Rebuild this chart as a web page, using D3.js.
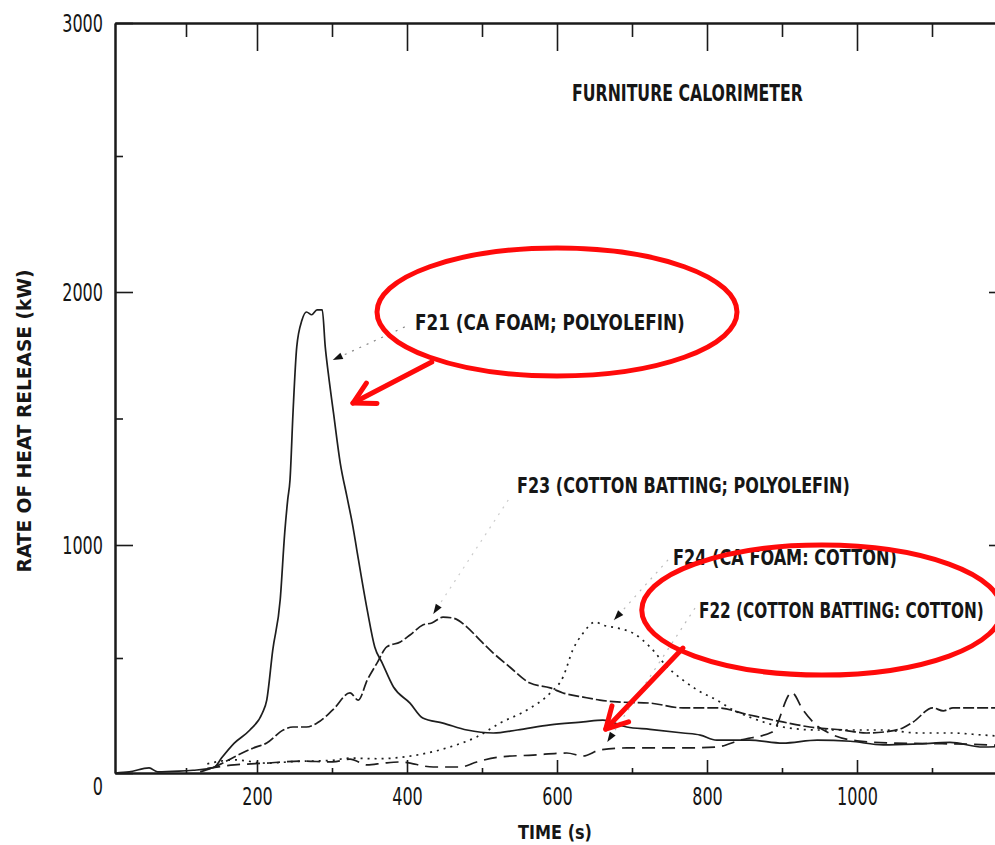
<!DOCTYPE html>
<html>
<head>
<meta charset="utf-8">
<script src="https://cdn.jsdelivr.net/npm/d3@7"></script>
<style>
body { margin: 0; background: #fff; }
svg { display: block; }
.txt { font-family: "Liberation Sans Narrow", "DejaVu Sans Condensed", sans-serif; font-weight: bold; fill: #161616; }
.axis path, .axis line { stroke: #1a1a1a; }
.axis path { stroke-width: 2px; }
.axis line { stroke-width: 1.6px; }
.axis text { font-family: "Liberation Sans Narrow", "DejaVu Sans Condensed", sans-serif; font-size: 25px; fill: #161616; }
.curve { fill: none; stroke: #1e1e1e; stroke-width: 1.7px; }
</style>
</head>
<body>
<svg id="chart" width="995" height="845"></svg>
<script>
// time (s) / heat release (kW)
const f21Time = [0, 20, 48, 60, 90, 110, 130, 140, 150, 168, 190, 207, 213, 221, 231, 237, 241, 244, 248, 253, 260, 266, 273, 280, 287, 291, 295, 302, 311, 320, 328, 333, 347, 357, 367, 382, 404, 421, 448, 480, 515, 547, 591, 635, 661, 693, 724, 768, 791, 813, 857, 901, 947, 991, 1035, 1080, 1124, 1168, 1190];
const f21Power = [0, 5, 22, 5, 8, 12, 18, 25, 65, 130, 187, 260, 317, 535, 760, 1050, 1180, 1257, 1522, 1783, 1889, 1921, 1910, 1929, 1929, 1783, 1680, 1522, 1324, 1190, 1071, 980, 712, 549, 478, 374, 304, 239, 217, 187, 174, 187, 209, 222, 230, 200, 190, 174, 165, 143, 143, 130, 143, 138, 122, 126, 133, 113, 115];

const f23Time = [120, 140, 168, 195, 213, 235, 248, 266, 280, 301, 324, 335, 347, 360, 373, 391, 404, 421, 433, 448, 461, 480, 497, 515, 537, 564, 591, 608, 635, 657, 680, 724, 768, 813, 857, 901, 937, 981, 1013, 1040, 1061, 1075, 1101, 1115, 1128, 1190];
const f23Power = [5, 26, 70, 109, 130, 187, 200, 200, 217, 274, 348, 317, 404, 478, 549, 571, 602, 646, 655, 681, 677, 637, 580, 522, 461, 391, 370, 348, 330, 317, 309, 304, 283, 283, 252, 222, 200, 187, 174, 180, 196, 222, 283, 270, 283, 283];

const f24Time = [130, 168, 213, 250, 300, 324, 360, 413, 457, 493, 524, 560, 591, 608, 621, 635, 651, 661, 680, 701, 724, 747, 768, 787, 813, 835, 857, 901, 947, 1035, 1080, 1124, 1168, 1190];
const f24Power = [40, 57, 43, 50, 55, 65, 62, 78, 113, 157, 217, 274, 348, 417, 535, 611, 660, 646, 633, 611, 549, 461, 404, 361, 317, 274, 243, 200, 187, 187, 174, 174, 165, 160];

const f22Time = [130, 168, 213, 257, 301, 324, 347, 369, 391, 435, 471, 493, 524, 568, 613, 635, 657, 693, 724, 768, 813, 844, 887, 913, 928, 945, 965, 1000, 1050, 1100, 1150, 1190];
const f22Power = [20, 35, 43, 52, 48, 60, 35, 43, 48, 26, 26, 48, 70, 78, 87, 74, 100, 109, 109, 109, 113, 143, 178, 350, 274, 210, 170, 140, 130, 128, 125, 120];

const xMajorTicks = [200, 400, 600, 800, 1000];
const xMinorTicks = [100, 300, 500, 700, 900, 1100];
const yMajorTicks = [0, 1000, 2000, 3000];
const yMinorTicks = [500, 1500, 2500];

const svg = d3.select("#chart");

// the scan is slightly stretched, so the scales carry a few anchor points
const x = d3.scaleLinear().domain([0, 200, 1200]).range([115, 257, 1007]);
const y = d3.scaleLinear()
  .domain([0, 500, 1000, 2000, 2500, 3000])
  .range([773, 658, 545, 292, 156, 23]);

svg.append("clipPath").attr("id", "plot")
  .append("rect")
  .attr("x", x(0)).attr("y", y(3000))
  .attr("width", x(1200) - x(0)).attr("height", y(0) - y(3000));

const plain = d => String(d);
// narrow the tick digits like the condensed face of the scan
const squeeze = sel => sel.selectAll(".tick text")
  .attr("textLength", d => String(d).length * 10.2)
  .attr("lengthAdjust", "spacingAndGlyphs");

// condensed look: measure the text, then scale it horizontally to the width in the scan
function addText(str, px, py, size, width, anchor, rotate) {
  const t = svg.append("text").attr("class", "txt")
    .attr("font-size", size)
    .attr("text-anchor", anchor || "start")
    .text(str);
  const k = width / t.node().getComputedTextLength();
  t.attr("transform", "translate(" + px + "," + py + ")" +
    (rotate ? " rotate(" + rotate + ")" : "") + " scale(" + k + ",1)");
  return t;
}

// axes, ticks pointing inward
svg.append("g").attr("class", "axis")
  .attr("transform", "translate(0," + y(0) + ")")
  .call(d3.axisBottom(x).tickValues(xMinorTicks).tickSizeInner(-5).tickSizeOuter(0).tickFormat(""));
svg.append("g").attr("class", "axis")
  .attr("transform", "translate(0," + y(0) + ")")
  .call(d3.axisBottom(x).tickValues(xMajorTicks).tickSizeInner(-13).tickSizeOuter(0).tickPadding(14).tickFormat(plain))
  .call(squeeze);

svg.append("g").attr("class", "axis")
  .attr("transform", "translate(0," + y(3000) + ")")
  .call(d3.axisTop(x).tickValues(xMinorTicks).tickSizeInner(-14).tickSizeOuter(0).tickFormat(""));
svg.append("g").attr("class", "axis")
  .attr("transform", "translate(0," + y(3000) + ")")
  .call(d3.axisTop(x).tickValues(xMajorTicks).tickSizeInner(-28).tickSizeOuter(0).tickFormat(""));

svg.append("g").attr("class", "axis")
  .attr("transform", "translate(" + x(0) + ",0)")
  .call(d3.axisLeft(y).tickValues(yMinorTicks).tickSizeInner(-8).tickSizeOuter(0).tickFormat(""));
const yAxis = svg.append("g").attr("class", "axis")
  .attr("transform", "translate(" + x(0) + ",0)")
  .call(d3.axisLeft(y).tickValues(yMajorTicks).tickSizeInner(-18).tickSizeOuter(0).tickPadding(12).tickFormat(plain))
  .call(squeeze);
yAxis.selectAll(".tick text").filter(d => d === 0).attr("dy", "0.85em");

svg.append("g").attr("class", "axis")
  .attr("transform", "translate(" + x(1200) + ",0)")
  .call(d3.axisRight(y).tickValues([1000, 2000]).tickSizeInner(-18).tickSizeOuter(0).tickFormat(""));

// axis titles and heading
addText("RATE OF HEAT RELEASE (kW)", 31, 421, 19, 303, "middle", -90);
addText("TIME (s)", 555, 839, 20, 74, "middle");
addText("FURNITURE CALORIMETER", 572, 101, 23, 231);

// the four curves
const series = [
  { name: "F21", time: f21Time, power: f21Power, dash: null },
  { name: "F23", time: f23Time, power: f23Power, dash: "11,3" },
  { name: "F24", time: f24Time, power: f24Power, dash: "2,5" },
  { name: "F22", time: f22Time, power: f22Power, dash: "13,7" }
];

const line = d3.line()
  .x(d => x(d[0]))
  .y(d => y(d[1]))
  .curve(d3.curveMonotoneX);

svg.append("g").attr("clip-path", "url(#plot)")
  .selectAll("path")
  .data(series)
  .join("path")
  .attr("class", "curve")
  .attr("stroke-dasharray", d => d.dash)
  .attr("d", d => line(d.time.map((t, i) => [t, d.power[i]])));

// curve labels with faint dotted leaders, anchors in data units
const labels = [
  { text: "F21 (CA FOAM; POLYOLEFIN)", lx: 415, ly: 330, len: 270, from: [397, 1862], to: [301, 1731], ink: "#888" },
  { text: "F23 (COTTON BATTING; POLYOLEFIN)", lx: 517, ly: 493, len: 333, from: [535, 1178], to: [435, 695], ink: "#ccc" },
  { text: "F24 (CA FOAM: COTTON)", lx: 673, ly: 565, len: 224, from: [748, 934], to: [676, 668], ink: "#bbb" },
  { text: "F22 (COTTON BATTING: COTTON)", lx: 699, ly: 618, len: 285, from: [784, 721], to: [667, 135], ink: "#bbb" }
];

const ann = svg.append("g");
labels.forEach(l => {
  addText(l.text, l.lx, l.ly, 21, l.len);

  const x1 = x(l.from[0]), y1 = y(l.from[1]);
  const x2 = x(l.to[0]), y2 = y(l.to[1]);
  ann.append("line")
    .attr("x1", x1).attr("y1", y1).attr("x2", x2).attr("y2", y2)
    .attr("stroke", l.ink).attr("stroke-width", 1.2)
    .attr("stroke-dasharray", "2,6");

  // small black arrow head at the curve end
  const a = Math.atan2(y2 - y1, x2 - x1);
  const hl = 10, hw = 3.5;
  const bx = x2 - hl * Math.cos(a), by = y2 - hl * Math.sin(a);
  ann.append("path")
    .attr("d", "M" + x2 + "," + y2 +
      "L" + (bx + hw * Math.sin(a)) + "," + (by - hw * Math.cos(a)) +
      "L" + (bx - hw * Math.sin(a)) + "," + (by + hw * Math.cos(a)) + "Z")
    .attr("fill", "#111");
});

// red highlight overlay
const highlights = [
  { cx: 600, cy: 1921, rx: 180, ry: 64, from: [433, 1723], to: [328, 1561] },
  { cx: 953, cy: 712, rx: 180, ry: 65, from: [768, 544], to: [665, 191] }
];

const red = svg.append("g")
  .attr("fill", "none").attr("stroke", "#ff0a0a")
  .attr("stroke-width", 5).attr("stroke-linecap", "round");

highlights.forEach(h => {
  red.append("ellipse")
    .attr("cx", x(h.cx)).attr("cy", y(h.cy))
    .attr("rx", h.rx).attr("ry", h.ry);

  const x1 = x(h.from[0]), y1 = y(h.from[1]);
  const x2 = x(h.to[0]), y2 = y(h.to[1]);
  red.append("line").attr("x1", x1).attr("y1", y1).attr("x2", x2).attr("y2", y2);

  const a = Math.atan2(y2 - y1, x2 - x1);
  const arm = 24, spread = 0.5;
  red.append("path")
    .attr("stroke-linejoin", "round")
    .attr("d",
      "M" + (x2 - arm * Math.cos(a - spread)) + "," + (y2 - arm * Math.sin(a - spread)) +
      "L" + x2 + "," + y2 +
      "L" + (x2 - arm * Math.cos(a + spread)) + "," + (y2 - arm * Math.sin(a + spread)));
});
</script>
</body>
</html>
